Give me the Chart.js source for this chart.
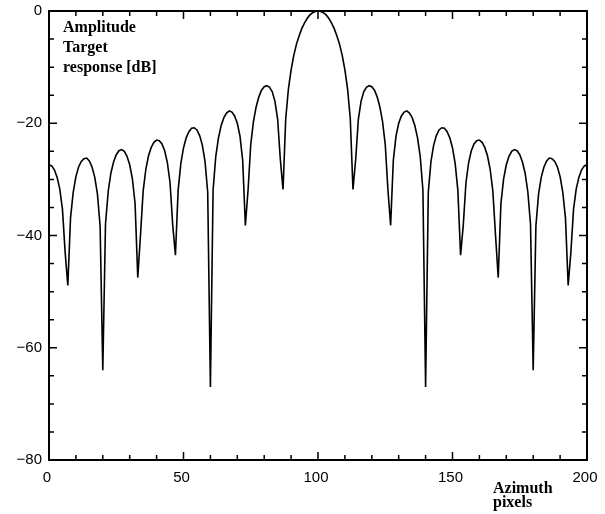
<!DOCTYPE html>
<html>
<head>
<meta charset="utf-8">
<script src="https://cdn.jsdelivr.net/npm/chart.js@4"></script>
<style>
  html, body { margin: 0; padding: 0; background: #fff; }
  canvas { display: block; }
</style>
</head>
<body>
<canvas id="chart" width="605" height="514"></canvas>
<script>
// azimuth sample positions (pixels)
const azimuthPixels = [
  0, 1, 2, 3, 4, 5, 6, 7, 8, 9, 10, 11, 12, 13, 14, 15, 16, 17, 18, 19,
  20, 21, 22, 23, 24, 25, 26, 27, 28, 29, 30, 31, 32, 33, 34, 35, 36, 37, 38, 39,
  40, 41, 42, 43, 44, 45, 46, 47, 48, 49, 50, 51, 52, 53, 54, 55, 56, 57, 58, 59,
  60, 61, 62, 63, 64, 65, 66, 67, 68, 69, 70, 71, 72, 73, 74, 75, 76, 77, 78, 79,
  80, 81, 82, 83, 84, 85, 86, 87, 88, 89, 90, 91, 92, 93, 94, 95, 96, 97, 98, 99,
  100, 101, 102, 103, 104, 105, 106, 107, 108, 109, 110, 111, 112, 113, 114, 115, 116, 117, 118, 119,
  120, 121, 122, 123, 124, 125, 126, 127, 128, 129, 130, 131, 132, 133, 134, 135, 136, 137, 138, 139,
  140, 141, 142, 143, 144, 145, 146, 147, 148, 149, 150, 151, 152, 153, 154, 155, 156, 157, 158, 159,
  160, 161, 162, 163, 164, 165, 166, 167, 168, 169, 170, 171, 172, 173, 174, 175, 176, 177, 178, 179,
  180, 181, 182, 183, 184, 185, 186, 187, 188, 189, 190, 191, 192, 193, 194, 195, 196, 197, 198, 199,
  200
];

// target response amplitude [dB]
const amplitudeDb = [
  -27.4, -27.6, -28.3, -29.6, -31.7, -35.3, -43.0, -48.9, -36.9, -32.3,
  -29.5, -27.8, -26.8, -26.3, -26.2, -26.7, -27.8, -29.6, -32.6, -38.3,
  -64.0, -38.0, -32.2, -28.9, -26.9, -25.6, -24.9, -24.7, -25.0, -25.9,
  -27.4, -29.9, -34.3, -47.5, -40.0, -32.1, -28.2, -25.8, -24.3, -23.4,
  -23.0, -23.1, -23.7, -24.9, -27.0, -30.6, -38.2, -43.5, -32.0, -27.2,
  -24.4, -22.6, -21.5, -20.9, -20.8, -21.2, -22.2, -23.9, -26.8, -32.3,
  -67.0, -31.9, -25.9, -22.6, -20.4, -19.0, -18.2, -17.8, -18.0, -18.7,
  -20.0, -22.3, -26.6, -38.2, -31.9, -23.8, -19.7, -17.1, -15.3, -14.1,
  -13.5, -13.3, -13.6, -14.4, -16.1, -19.3, -26.5, -31.8, -19.2, -13.9,
  -10.5, -7.9, -5.9, -4.4, -3.1, -2.1, -1.3, -0.7, -0.3, -0.1,
  0.0,
  -0.1, -0.3, -0.7, -1.3, -2.1, -3.1, -4.4, -5.9, -7.9, -10.5,
  -13.9, -19.2, -31.8, -26.5, -19.3, -16.1, -14.4, -13.6, -13.3, -13.5,
  -14.1, -15.3, -17.1, -19.7, -23.8, -31.9, -38.2, -26.6, -22.3, -20.0,
  -18.7, -18.0, -17.8, -18.2, -19.0, -20.4, -22.6, -25.9, -31.9, -67.0,
  -32.3, -26.8, -23.9, -22.2, -21.2, -20.8, -20.9, -21.5, -22.6, -24.4,
  -27.2, -32.0, -43.5, -38.2, -30.6, -27.0, -24.9, -23.7, -23.1, -23.0,
  -23.4, -24.3, -25.8, -28.2, -32.1, -40.0, -47.5, -34.3, -29.9, -27.4,
  -25.9, -25.0, -24.7, -24.9, -25.6, -26.9, -28.9, -32.2, -38.0, -64.0,
  -38.3, -32.6, -29.6, -27.8, -26.7, -26.2, -26.3, -26.8, -27.8, -29.5,
  -32.3, -36.9, -48.9, -43.0, -35.3, -31.7, -29.6, -28.3, -27.6, -27.4
];

const xTicks = [0, 50, 100, 150, 200];
const yTicks = [-80, -60, -40, -20, 0];
const yTitleLines = ['Amplitude', 'Target', 'response [dB]'];
const xTitleLines = ['Azimuth', 'pixels'];

const serif = '"Liberation Serif", "DejaVu Serif", serif';
const sans = '"Liberation Sans", Arial, sans-serif';

// frame with inward ticks on all four sides, plus the in-plot titles
const frameTicks = {
  id: 'frameTicks',
  afterDatasetsDraw(chart) {
    const { ctx, chartArea: a, scales: { x, y } } = chart;
    ctx.save();
    ctx.strokeStyle = '#000';
    ctx.lineWidth = 2;
    ctx.strokeRect(a.left, a.top, a.right - a.left, a.bottom - a.top);
    ctx.lineWidth = 1.5;
    ctx.beginPath();
    for (let v = 0; v <= 200; v += 10) {
      const px = x.getPixelForValue(v);
      const len = xTicks.includes(v) ? 8 : 5;
      ctx.moveTo(px, a.bottom); ctx.lineTo(px, a.bottom - len);
      ctx.moveTo(px, a.top); ctx.lineTo(px, a.top + len);
    }
    for (let v = -80; v <= 0; v += 5) {
      const py = y.getPixelForValue(v);
      const len = yTicks.includes(v) ? 8 : 5;
      ctx.moveTo(a.left, py); ctx.lineTo(a.left + len, py);
      ctx.moveTo(a.right, py); ctx.lineTo(a.right - len, py);
    }
    ctx.stroke();

    ctx.fillStyle = '#000';
    ctx.font = 'bold 16px ' + serif;
    ctx.textAlign = 'left';
    ctx.textBaseline = 'alphabetic';
    yTitleLines.forEach((t, i) => ctx.fillText(t, a.left + 14, 32 + i * 20));
    xTitleLines.forEach((t, i) => ctx.fillText(t, 493, 493 + i * 14));
    ctx.restore();
  }
};

new Chart(document.getElementById('chart'), {
  type: 'line',
  data: {
    labels: azimuthPixels,
    datasets: [{
      data: amplitudeDb,
      borderColor: '#000',
      borderWidth: 1.6,
      pointRadius: 0,
      tension: 0,
      fill: false
    }]
  },
  options: {
    responsive: false,
    animation: false,
    devicePixelRatio: 1,
    layout: { padding: { top: 11, right: 18, left: 0, bottom: 0 } },
    plugins: { legend: { display: false }, tooltip: { enabled: false } },
    scales: {
      x: {
        type: 'linear',
        min: 0,
        max: 200,
        afterFit: (scale) => {
          scale.height = 54;
          scale.paddingLeft = 0;
          scale.paddingRight = 0;
        },
        afterBuildTicks: (scale) => { scale.ticks = xTicks.map(v => ({ value: v })); },
        grid: { display: false, drawTicks: false },
        border: { display: false },
        ticks: {
          padding: 9,
          labelOffset: -2,
          color: '#000',
          font: { family: sans, size: 15 },
          callback: (v) => String(v)
        }
      },
      y: {
        min: -80,
        max: 0,
        afterFit: (scale) => {
          scale.width = 49;
          scale.paddingTop = 0;
          scale.paddingBottom = 0;
        },
        afterBuildTicks: (scale) => { scale.ticks = yTicks.map(v => ({ value: v })); },
        grid: { display: false, drawTicks: false },
        border: { display: false },
        ticks: {
          padding: 7,
          color: '#000',
          font: { family: sans, size: 15 },
          callback: (v) => (v < 0 ? '\u2212' + Math.abs(v) : String(v))
        }
      }
    }
  },
  plugins: [frameTicks]
});
</script>
</body>
</html>
